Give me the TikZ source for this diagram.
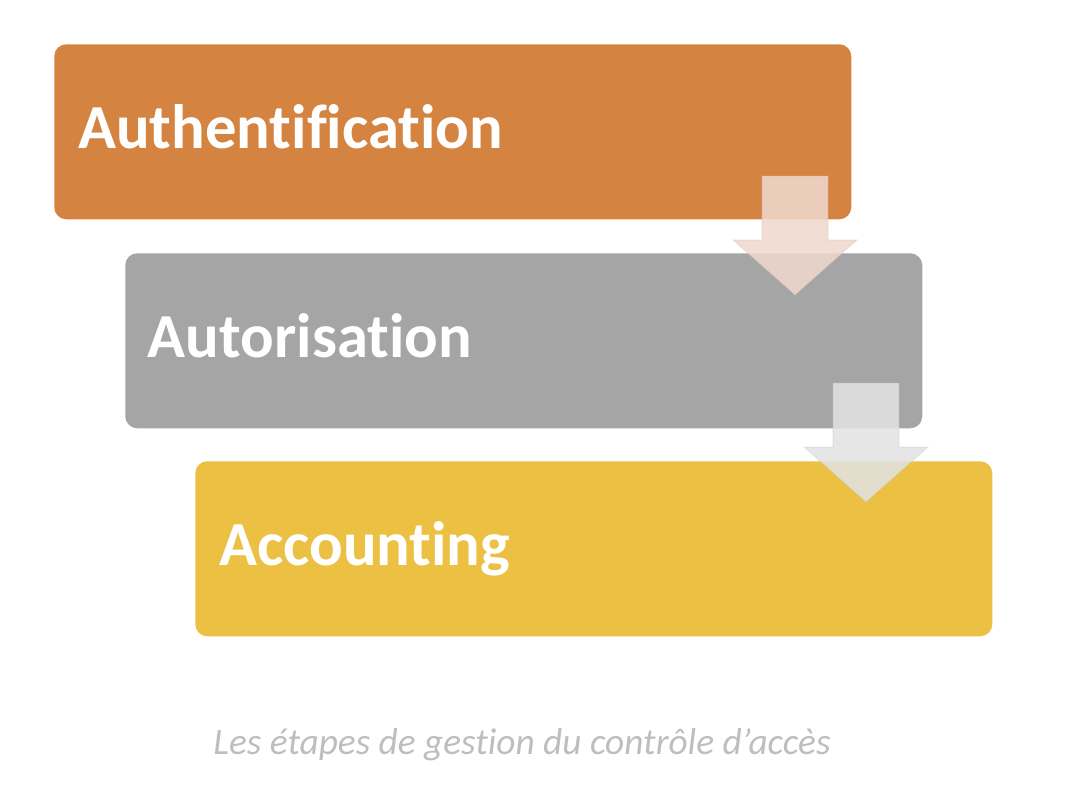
\documentclass[tikz,border=0pt]{standalone}
\usepackage{fontspec}
\setmainfont{Carlito}[Ligatures=NoCommon]
\definecolor{authorange}{RGB}{212,132,64}
\definecolor{autogray}{RGB}{165,165,165}
\definecolor{acctyellow}{RGB}{236,192,66}
\definecolor{arrowpink}{RGB}{240,216,206}
\definecolor{arrowgray}{RGB}{226,226,226}
\definecolor{captiongray}{RGB}{190,190,190}
\begin{document}
\begin{tikzpicture}[x=0.75pt,y=-0.75pt,
  stagebox/.style={rectangle,rounded corners=9pt,minimum width=597.75pt,
                   minimum height=131.25pt,anchor=north west,inner sep=0pt},
  stagetext/.style={text=white,anchor=base west,inner sep=0pt,
                    font=\fontsize{47}{55}\selectfont\bfseries},
  stagedown/.pic={\path[pic actions] (-33,0) -- (33,0) -- (33,64) -- (62,64)
                  -- (0,119) -- (-62,64) -- (-33,64) -- cycle;},
  arrowfill/.style={fill=#1,fill opacity=0.87,draw=#1!85!black,draw opacity=0.25,line width=0.8pt}]
\useasboundingbox (0,0) rectangle (1066,810);
% the three stages
\node[stagebox,fill=authorange] (auth) at (54,44) {};
\node[stagebox,fill=autogray]   (autor) at (125,253) {};
\node[stagebox,fill=acctyellow] (acct) at (195,461) {};
\node[stagetext] (authtext)  at ([xshift=18pt,yshift=-78pt]auth.north west)  {Authentification};
\node[stagetext] (autortext) at ([xshift=17pt,yshift=-78pt]autor.north west) {Autorisation};
\node[stagetext] (accttext)  at ([xshift=18pt,yshift=-78pt]acct.north west)  {Accounting};
% arrows between stages
\pic[arrowfill=arrowpink] at (795,176) {stagedown};
\pic[arrowfill=arrowgray] at (866,383) {stagedown};
% caption
\node[anchor=base,inner sep=0pt,text=captiongray,font=\fontsize{28}{32}\selectfont\itshape]
  (caption) at (522,754) {Les étapes de gestion du contrôle d’accès};
\end{tikzpicture}
\end{document}
